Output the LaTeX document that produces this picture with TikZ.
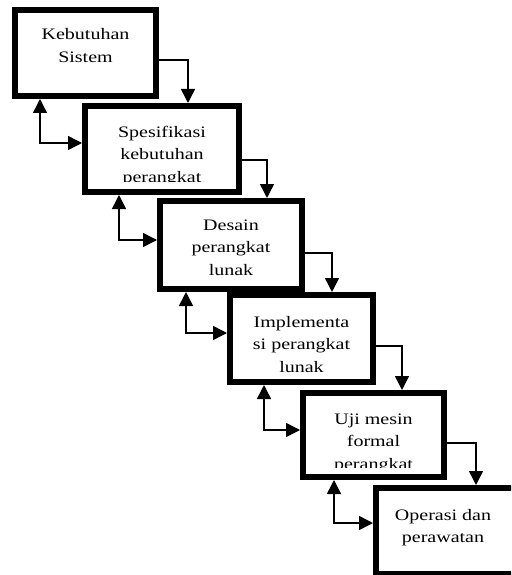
\documentclass[tikz,border=0pt]{standalone}
\usepackage{fontspec}
\usepackage{graphicx}
\setmainfont{Liberation Serif}
\usetikzlibrary{arrows.meta}
\newcommand{\stagelines}[1]{\scalebox{1.25}[1]{\begin{tabular}{@{}c@{}}#1\end{tabular}}}
\tikzset{
  stagebox/.style={draw, line width=6pt, inner sep=0pt},
  stagetext/.style={inner sep=0pt, font=\fontsize{16}{22.5}\selectfont},
  flow/.style={line width=1.5pt, -{Triangle[length=14pt,width=14pt]}},
  backflow/.style={line width=1.5pt, {Triangle[length=14pt,width=14pt]}-{Triangle[length=14pt,width=14pt]}}
}
\begin{document}
\begin{tikzpicture}[x=1pt,y=-1pt]
\useasboundingbox (0,0) rectangle (511,575);
\clip (0,0) rectangle (511,575);
\fill[white] (0,0) rectangle (511,575);

% boxes
\node[stagebox, minimum width=141pt, minimum height=86pt] (b1) at (85.5,53) {};
\node[stagebox, minimum width=154pt, minimum height=86pt] (b2) at (162,149) {};
\node[stagebox, minimum width=142pt, minimum height=88pt] (b3) at (231,245) {};
\node[stagebox, minimum width=143pt, minimum height=87pt] (b4) at (301.5,338.5) {};
\node[stagebox, minimum width=141pt, minimum height=84pt] (b5) at (373.5,435) {};
\node[stagebox, minimum width=141pt, minimum height=86pt] (b6) at (446.5,531) {};

% texts
\node[stagetext] (t1) at (85.5,46.5) {\stagelines{Kebutuhan\\Sistem}};
\begin{scope}
  \clip (85,106) rectangle (239,181);
  \node[stagetext] (t2) at (162,155) {\stagelines{Spesifikasi\\kebutuhan\\perangkat}};
\end{scope}
\begin{scope}
  \clip (160,201) rectangle (302,276.5);
  \node[stagetext] (t3) at (231,248) {\stagelines{Desain\\perangkat\\lunak}};
\end{scope}
\node[stagetext] (t4) at (301.5,345) {\stagelines{Implementa\\si perangkat\\lunak}};
\begin{scope}
  \clip (303,393) rectangle (444,467);
  \node[stagetext] (t5) at (373.5,442) {\stagelines{Uji mesin\\formal\\perangkat}};
\end{scope}
\node[stagetext] (t6) at (443,526.75) {\stagelines{Operasi dan\\perawatan}};

% bend points
\coordinate (k12) at (188,60);
\coordinate (k23) at (267,160);
\coordinate (k34) at (332,253);
\coordinate (k45) at (402,346);
\coordinate (k56) at (476,443);
\coordinate (f12) at (40,143);
\coordinate (f23) at (119,240);
\coordinate (f34) at (186,333);
\coordinate (f45) at (264,430);
\coordinate (f56) at (334,523);

% forward flow
\draw[flow] (b1.east |- k12) -- (k12) -- (k12 |- b2.north);
\draw[flow] (b2.east |- k23) -- (k23) -- (k23 |- b3.north);
\draw[flow] (b3.east |- k34) -- (k34) -- (k34 |- b4.north);
\draw[flow] (b4.east |- k45) -- (k45) -- (k45 |- b5.north);
\draw[flow] (b5.east |- k56) -- (k56) -- (k56 |- b6.north);

% feedback
\draw[backflow] (b1.south -| f12) -- (f12) -- (f12 -| b2.west);
\draw[backflow] (b2.south -| f23) -- (f23) -- (f23 -| b3.west);
\draw[backflow] (b3.south -| f34) -- (f34) -- (f34 -| b4.west);
\draw[backflow] (b4.south -| f45) -- (f45) -- (f45 -| b5.west);
\draw[backflow] (b5.south -| f56) -- (f56) -- (f56 -| b6.west);
\end{tikzpicture}
\end{document}
